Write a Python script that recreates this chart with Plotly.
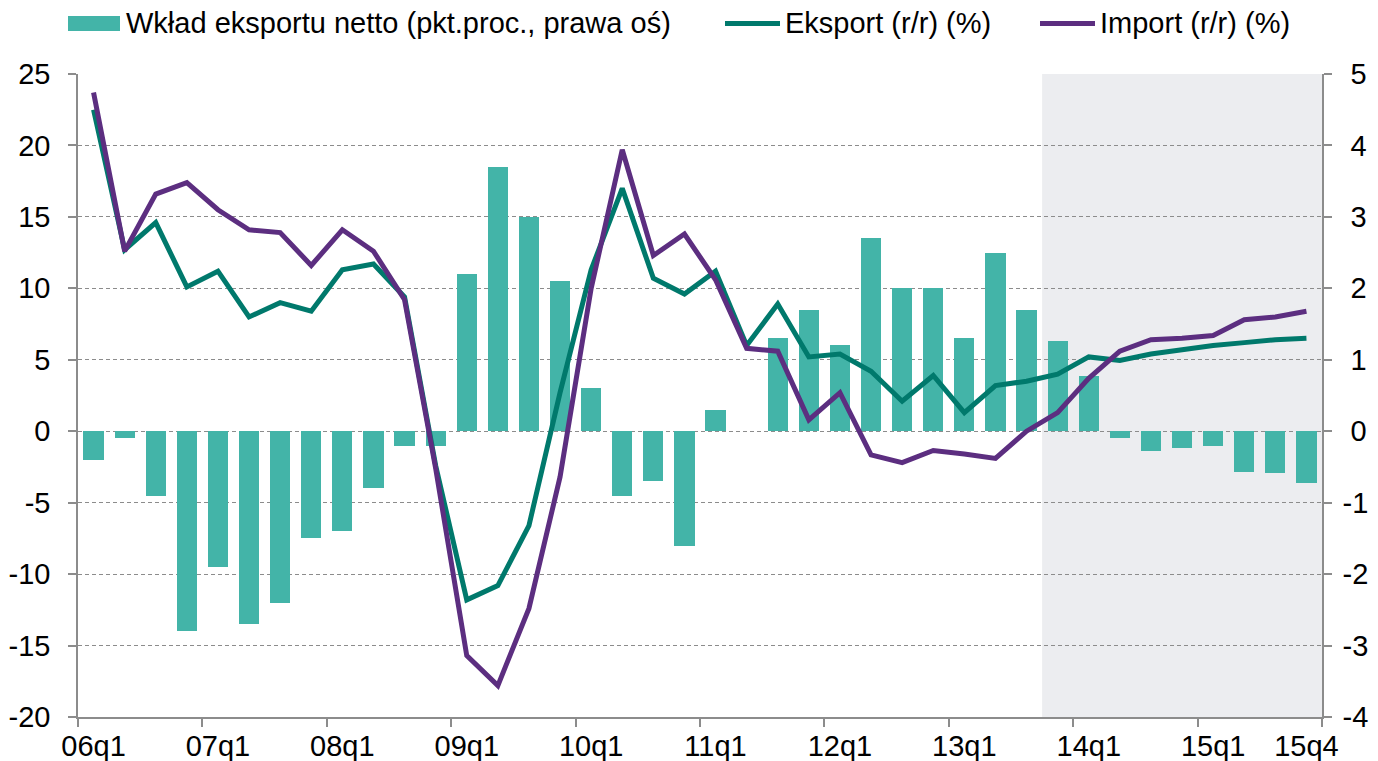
import numpy as np
import plotly.graph_objects as go

# --- dane ---
kwartaly = [
    "06q1", "06q2", "06q3", "06q4", "07q1", "07q2", "07q3", "07q4",
    "08q1", "08q2", "08q3", "08q4", "09q1", "09q2", "09q3", "09q4",
    "10q1", "10q2", "10q3", "10q4", "11q1", "11q2", "11q3", "11q4",
    "12q1", "12q2", "12q3", "12q4", "13q1", "13q2", "13q3", "13q4",
    "14q1", "14q2", "14q3", "14q4", "15q1", "15q2", "15q3", "15q4",
]

# wklad eksportu netto, pkt. proc. (prawa os)
wklad_netto = [
    -0.4, -0.1, -0.9, -2.8, -1.9, -2.7, -2.4, -1.5,
    -1.4, -0.8, -0.2, -0.2, 2.2, 3.7, 3.0, 2.1,
    0.6, -0.9, -0.7, -1.6, 0.3, 0.0, 1.3, 1.7,
    1.2, 2.7, 2.0, 2.0, 1.3, 2.5, 1.7, 1.26,
    0.77, -0.1, -0.28, -0.23, -0.21, -0.57, -0.59, -0.73,
]

# eksport r/r, % (lewa os)
eksport = [
    22.5, 12.7, 14.6, 10.1, 11.2, 8.0, 9.0, 8.4,
    11.3, 11.7, 9.4, -2.4, -11.8, -10.8, -6.6, 2.7,
    11.3, 17.0, 10.7, 9.6, 11.2, 6.0, 8.9, 5.2,
    5.4, 4.2, 2.1, 3.9, 1.3, 3.2, 3.5, 4.0,
    5.2, 4.95, 5.4, 5.7, 6.0, 6.2, 6.4, 6.5,
]

# import r/r, % (lewa os)
import_rr = [
    23.7, 12.6, 16.6, 17.4, 15.5, 14.1, 13.9, 11.6,
    14.1, 12.6, 9.2, -2.6, -15.7, -17.8, -12.4, -3.2,
    10.0, 19.7, 12.3, 13.8, 10.6, 5.8, 5.6, 0.8,
    2.7, -1.65, -2.2, -1.35, -1.6, -1.9, 0.0, 1.3,
    3.7, 5.6, 6.4, 6.5, 6.7, 7.8, 8.0, 8.4,
]

etykiety_x = ["06q1", "07q1", "08q1", "09q1", "10q1", "11q1",
              "12q1", "13q1", "14q1", "15q1", "15q4"]
os_lewa = [-20, -15, -10, -5, 0, 5, 10, 15, 20, 25]
os_prawa = [-4, -3, -2, -1, 0, 1, 2, 3, 4, 5]
prognoza_od = "13q4"

# --- styl ---
TURKUS = "#43B4A8"
ZIELONY = "#00796C"
FIOLET = "#5C2E80"
SZARY = "#8C8C8C"
FONT = "Liberation Sans, Arial, sans-serif"
FS = 29

# strona ma 8px marginesu body, wiec wykres jest przesuniety o 8px
OFF = 8
W, H = 1378 - OFF, 761 - OFF
L, T = 78 - OFF, 74 - OFF
PW, PH = 1244, 643
R, B = W - L - PW, H - T - PH


def px_x(px):
    return (px - OFF - L) / PW


def px_y(py):
    return (T + PH - (py - OFF)) / PH


n = len(kwartaly)
x = np.arange(n) + 0.5  # srodek slotu kwartalu
i_lab = [kwartaly.index(k) for k in etykiety_x]
x0_prog = kwartaly.index(prognoza_od)

# etykiety prawej osi wyrownane do prawej (spacja zamiast minusa)
tekst_prawa = [str(v) if v < 0 else "\u00a0" + str(v) for v in os_prawa]

fig = go.Figure()

fig.add_trace(go.Bar(
    x=x, y=wklad_netto,
    yaxis="y",
    width=0.65,
    marker=dict(color=TURKUS, line=dict(width=0)),
    showlegend=False,
))

fig.add_trace(go.Scatter(
    x=x, y=eksport, yaxis="y2", mode="lines",
    line=dict(color=ZIELONY, width=5),
    showlegend=False,
))

fig.add_trace(go.Scatter(
    x=x, y=import_rr, yaxis="y2", mode="lines",
    line=dict(color=FIOLET, width=5),
    showlegend=False,
))

# okres prognozy
fig.add_shape(type="rect", xref="x", yref="paper",
              x0=x0_prog, x1=n, y0=0, y1=1,
              fillcolor="rgba(218,220,226,0.5)", line_width=0, layer="between")

# legenda rysowana recznie (szersze symbole jak w oryginale)
leg_y = px_y(23.5)
fig.add_shape(type="rect", xref="paper", yref="paper",
              x0=px_x(68), x1=px_x(120), y0=px_y(31), y1=px_y(16),
              fillcolor=TURKUS, line_width=0)
for (a, b), col in [((725, 780), ZIELONY), ((1040, 1095), FIOLET)]:
    fig.add_shape(type="line", xref="paper", yref="paper",
                  x0=px_x(a), x1=px_x(b), y0=leg_y, y1=leg_y,
                  line=dict(color=col, width=5))
for txt, pos in [("Wkład eksportu netto (pkt.proc., prawa oś)", 124),
                 ("Eksport (r/r) (%)", 783), ("Import (r/r) (%)", 1098)]:
    fig.add_annotation(text=txt, xref="paper", yref="paper",
                       x=px_x(pos), y=leg_y, xanchor="left", yanchor="middle",
                       showarrow=False, font=dict(family=FONT, size=FS, color="black"))

axis_common = dict(
    showline=True, linecolor=SZARY, linewidth=1.5,
    ticks="outside", ticklen=8, tickcolor=SZARY, tickwidth=1.5,
    zeroline=False, automargin=False,
    tickfont=dict(family=FONT, size=FS, color="black"),
)

fig.update_layout(
    width=W, height=H,
    margin=dict(l=L, r=R, t=T, b=B),
    paper_bgcolor="white", plot_bgcolor="white",
    bargap=0,
    xaxis=dict(
        range=[0, n], showline=True, linecolor=SZARY, linewidth=1.5,
        zeroline=False, showgrid=False, automargin=False,
        tickmode="array", tickvals=x[i_lab], ticktext=etykiety_x,
        ticks="", ticklabelstandoff=2,
        tickfont=dict(family=FONT, size=FS, color="black"),
        minor=dict(tickmode="linear", tick0=0, dtick=4, ticks="outside",
                   ticklen=8, tickcolor=SZARY, tickwidth=1.5, showgrid=False),
    ),
    xaxis2=dict(
        overlaying="x", anchor="y", side="bottom", range=[0, n],
        tickmode="linear", tick0=2, dtick=4, ticks="inside", ticklen=6,
        tickcolor=SZARY, tickwidth=1.5, showticklabels=False,
        showgrid=False, showline=False, zeroline=False, automargin=False,
    ),
    yaxis=dict(
        side="right", range=[os_prawa[0], os_prawa[-1]],
        tickmode="array", tickvals=os_prawa, ticktext=tekst_prawa,
        showgrid=False, ticklabelstandoff=5, **axis_common,
    ),
    yaxis2=dict(
        side="left", overlaying="y", range=[os_lewa[0], os_lewa[-1]],
        tickmode="array", tickvals=os_lewa, ticktext=[str(v) for v in os_lewa],
        showgrid=True, gridcolor=SZARY, gridwidth=1, griddash="4px,3px",
        ticklabelstandoff=12, **axis_common,
    ),
)

fig.write_html("out.html")
